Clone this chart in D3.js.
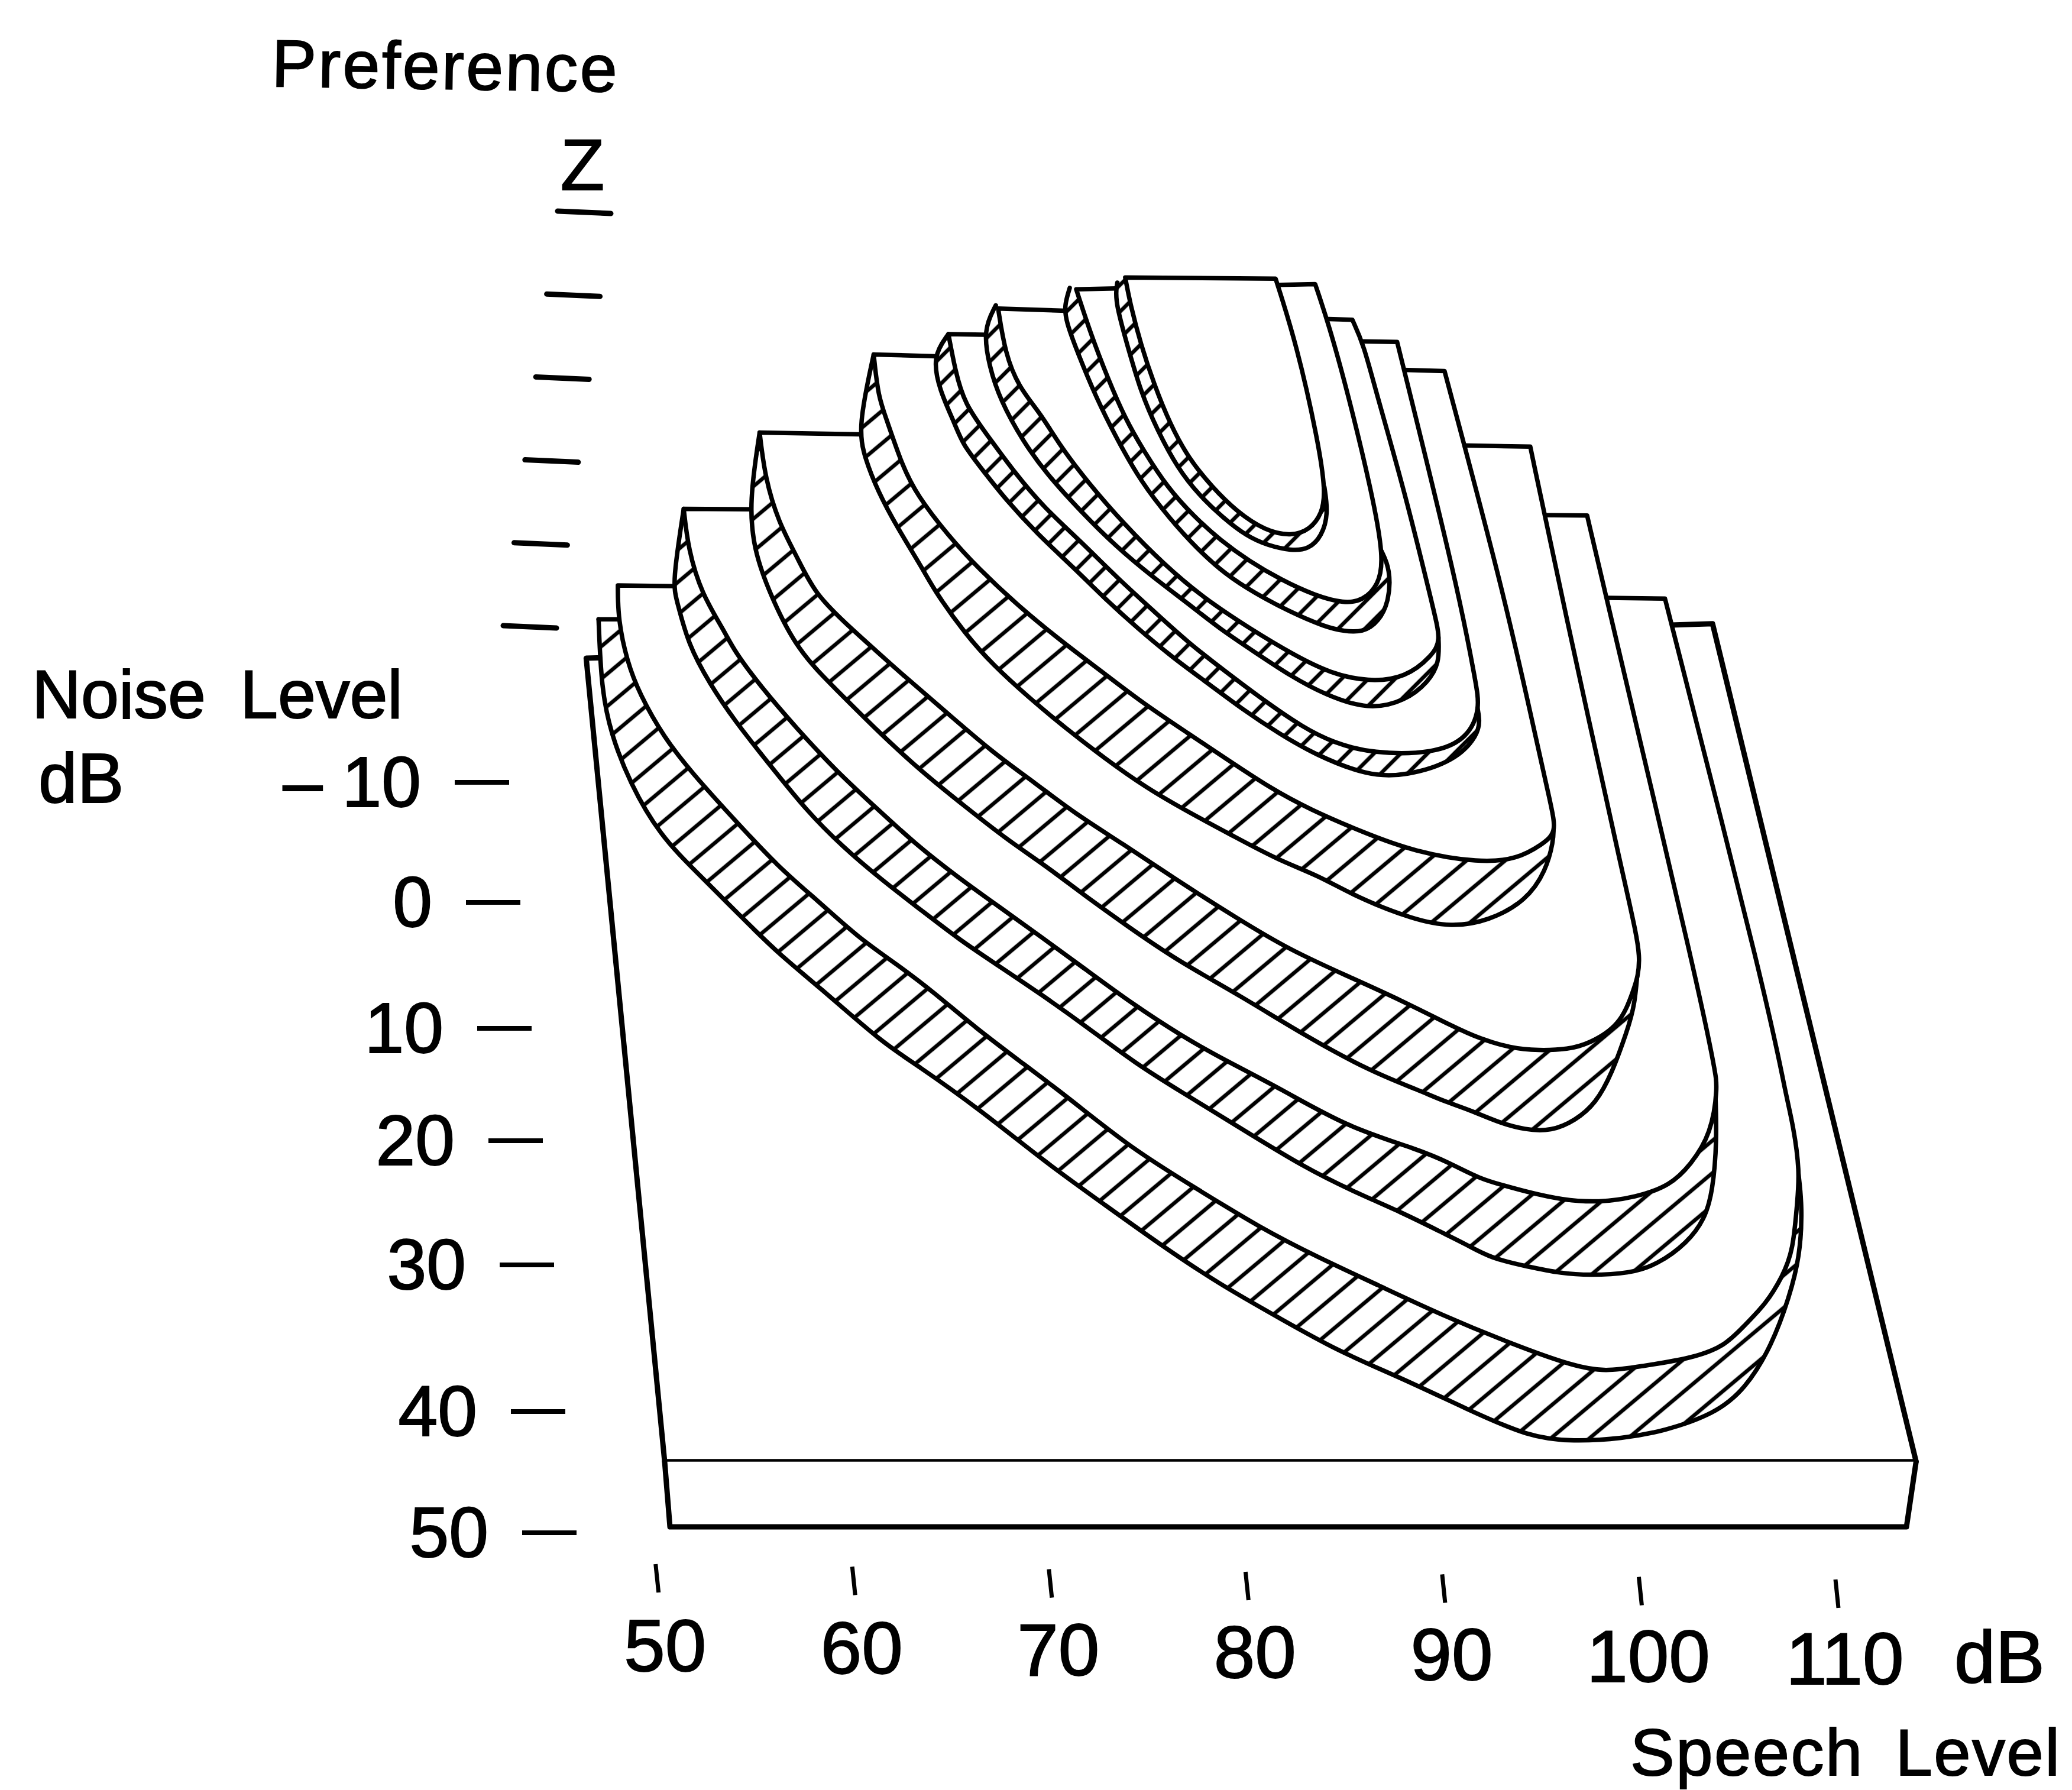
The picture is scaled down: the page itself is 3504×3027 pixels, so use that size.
<html>
  <head>
    <meta charset="utf-8">
    <script src="https://d3js.org/d3.v7.min.js"></script>
    <style>
      body { margin: 0; background: #fff; }
      text { font-family: "Liberation Sans", sans-serif; fill: #000; stroke: #000; stroke-width: 2; }
    </style>
  </head>
  <body>
    <svg id="chart" width="3504" height="3027"></svg>

    <script>
      // every point is [speech dB, noise dB] as read against the two axes
      var plateTop = [[46.41, -19.93], [50.4, 44.31], [114.04, 44.31], [103.69, -22.68]];
      var plateFront = [[50.4, 44.31], [50.67, 49.53], [113.55, 49.53], [114.04, 44.31]];

      var tier1Top = [[48.02,-25.74],[48.03,-23.04],[48.49,-19.65],[49.12,-17.08],[50.35,-13.61],[51.88,-10.59],[53.8,-7.27],[56.21,-3.17],[58.21,-0.52],[60.21,2.37],[62.2,4.54],[64.04,6.72],[66.19,9.61],[68.69,12.56],[70.93,15.21],[74.17,19.31],[77.41,22.45],[80.66,25.59],[83.65,28],[86.64,30.17],[89.89,32.58],[93.62,34.99],[96.61,36.68],[98.25,37.13],[100,36.7],[102.58,36.07],[104.3,35.12],[105.37,33.32],[106.38,31.74],[107.25,29.52],[107.79,27.4],[107.99,23.6],[108.13,21.17],[107.79,17.37],[107.39,14.83],[106.55,7.86],[101.27,-24.69]];
      var tier1Base = [[47.04,-23.04],[47.18,-17.53],[47.66,-13.91],[48.62,-9.99],[50.15,-5.77],[52.07,-2.75],[54.18,0.57],[56.1,3.58],[58.21,6.29],[61.47,10.82],[63.2,12.56],[66.44,16.17],[69.68,20.28],[72.67,23.65],[75.66,27.03],[78.66,30.17],[81.65,32.82],[84.64,35.48],[87.89,37.64],[91.12,40.06],[94.36,42.36],[96.61,42.71],[99.1,42.47],[101.2,41.88],[103.79,40.51],[105.37,38.5],[106.72,34.97],[107.59,31.17],[108.13,27.93],[108.26,24],[108.05,21.2]];

      var tier2Top = [[51.37,-31.87],[51.6,-28.61],[52.28,-25.08],[53.44,-22.09],[53.92,-20.55],[55.29,-17.65],[57.14,-14.27],[59.13,-10.9],[61.13,-8],[63.12,-5.11],[65.27,-2.46],[67.42,-0.04],[69.56,2.37],[71.87,5.03],[74.16,7.68],[76.74,10.33],[78.79,12.13],[81.75,14.51],[85.12,17.58],[88.77,19.37],[90.32,20.43],[91.86,21.7],[93.07,22.23],[94.28,22.76],[96.03,23.39],[97.91,23.6],[99.79,23.18],[101.54,22.23],[102.58,20.58],[103.62,18.11],[103.96,14.3],[103.79,12.98],[103.19,7.86],[98.21,-25.27],[97.31,-31.34]];
      var tier2Base = [[51.37,-31.87],[50.79,-25.89],[51.02,-24.54],[51.6,-21.01],[52.69,-17.89],[53.92,-15],[55.76,-11.37],[57.6,-7.76],[59.44,-4.86],[61.43,-2.21],[63.43,0.2],[65.42,2.62],[67.26,4.54],[69.56,6.96],[71.71,9.37],[74.42,12.56],[76.66,14.73],[79.65,17.62],[82.9,20.76],[85.39,22.69],[87.88,24.38],[89.98,26.03],[91.19,26.96],[92.4,28.04],[94.28,28.72],[96.03,29.27],[97.41,29.41],[99.46,29.27],[100.87,28.57],[102.41,26.82],[103.29,24.92],[103.69,22.76],[103.92,18.69],[103.82,14.3]];

      var tier3Top = [[55.23,-37.97],[55.51,-34.3],[56.2,-30.77],[57.12,-28.07],[58.04,-25.08],[59.65,-22.64],[61.13,-20.55],[62.5,-18.61],[64.65,-15.71],[67.11,-12.35],[69.26,-9.93],[71.25,-7.52],[73.72,-5.07],[76.27,-2.35],[79.63,0.99],[82.17,3.38],[85.12,5.49],[87.87,7.43],[90.52,9.55],[91.86,10.5],[93.41,11.24],[94.82,11.45],[96.37,11.34],[97.37,10.92],[98.99,9.44],[99.66,6.7],[100.15,4.26],[99.39,-0.7],[95.96,-25.27],[94.42,-36.84]];
      var tier3Base = [[55.23,-37.97],[54.7,-32.4],[54.93,-28.61],[55.74,-25.08],[57.14,-20.55],[59.13,-17.41],[61.27,-14.04],[63.43,-10.9],[65.73,-8],[67.87,-5.35],[69.7,-3.42],[71.71,-1.01],[73.85,1.41],[76.48,4.26],[79.63,7.01],[82.99,10.29],[86.39,13.18],[88.77,14.62],[89.98,15.47],[91.36,16.2],[92.74,17.16],[94.15,17.79],[95.49,17.89],[96.7,17.05],[97.75,15.68],[98.58,13.25],[99.32,9.97],[99.75,7.86],[99.93,3.9]];

      var tier4Top = [[61.03,-44.21],[61.26,-40.82],[61.7,-38.97],[62.47,-35.36],[63.24,-32.95],[64.78,-29.81],[66.31,-27.16],[68.61,-23.78],[70.91,-20.88],[72.75,-18.72],[74.75,-16.3],[77.05,-13.89],[78.89,-11.95],[81.19,-9.55],[83.18,-7.85],[85.95,-5.98],[88.5,-4.46],[91.86,-3.55],[93.77,-3.87],[95.02,-5.03],[95.76,-5.98],[95.5,-8],[94.5,-15],[93.05,-25.27],[90.06,-42.88]];
      var tier4Base = [[61.03,-44.21],[60.23,-38.38],[60.57,-35.94],[61.26,-33.22],[62.18,-30.51],[63.56,-26.98],[64.16,-25.23],[65.7,-21.84],[67.07,-19.43],[68.92,-16.78],[70.76,-14.37],[72.75,-11.95],[74.9,-9.55],[77.05,-7.61],[79.34,-5.69],[81.65,-3.75],[83.65,-2.55],[85.55,-0.84],[88.5,0.99],[90.39,1.57],[92.29,1.1],[94.22,-0.54],[95.22,-2.92],[95.6,-5.35],[95.6,-6.2]];

      var tier5Top = [[64.83,-45.84],[65.17,-43],[65.63,-40.28],[66.92,-37.52],[68.15,-34.87],[69.68,-31.98],[71.52,-29.33],[73.36,-26.43],[75.21,-23.78],[77.05,-21.13],[79.04,-18.72],[80.88,-16.54],[82.88,-14.37],[84.41,-13.17],[86.39,-12.3],[89.55,-12.3],[91.24,-13.51],[91.88,-15.92],[91.64,-18],[90.79,-25.27],[87.65,-45.21]];
      var tier5Base = [[64.83,-45.84],[64.02,-44.07],[64.37,-41.36],[65.17,-38.64],[65.54,-37.05],[66.62,-34.87],[67.69,-32.71],[69.38,-29.81],[71.21,-27.16],[72.75,-24.74],[74.44,-22.33],[76.28,-19.92],[77.97,-17.99],[79.81,-15.81],[81.65,-13.89],[83.49,-12.2],[86.18,-10.5],[88.07,-10.5],[90.6,-11.69],[91.77,-13.8],[91.85,-15],[91.73,-16]];

      var tier6Top = [[67.36,-47.88],[67.71,-44.35],[68.39,-41.63],[69.53,-39.46],[70.45,-37.05],[71.83,-34.15],[73.83,-30.53],[75.82,-27.39],[77.81,-24.74],[80.12,-22.33],[82.42,-20.16],[84.26,-18.72],[86.18,-18.03],[88.08,-18.35],[89.44,-20.14],[89.87,-21.35],[89.55,-23.5],[88.05,-33.17],[86.58,-41.19],[85.95,-44.99],[85.37,-46.99]];
      var tier6Base = [[67.24,-48.14],[66.6,-46.2],[66.9,-43.26],[67.47,-40.55],[68.61,-37.29],[69.84,-34.63],[71.52,-31.73],[73.36,-28.84],[75.21,-26.43],[77.05,-24.26],[78.58,-22.33],[80.42,-20.4],[82.26,-18.47],[83.95,-17.03],[86.18,-15.77],[88.08,-16.52],[89.24,-18.03],[89.8,-19.54],[89.75,-21.6]];

      var tier7Top = [[71.33,-49.42],[72.07,-45.84],[72.95,-42.25],[73.82,-39.08],[74.75,-36.54],[75.96,-33.59],[77.31,-31.27],[78.65,-29.37],[80.13,-27.68],[81.74,-26.2],[83.48,-24.93],[84.96,-24.31],[85.9,-24.52],[86.71,-25.79],[86.98,-27.89],[86.37,-33.17],[85.1,-41.4],[84.16,-46.67],[83.48,-49.84]];
      var tier7Base = [[71,-49.53],[70.73,-48.15],[70.8,-46.89],[71.4,-44.36],[72.34,-40.77],[73.35,-37.6],[74.62,-34.02],[76.1,-31.06],[77.44,-28.73],[78.92,-26.62],[80.4,-25.14],[82.14,-23.67],[84.02,-22.4],[84.96,-22.09],[85.9,-21.98],[86.71,-22.83],[87.25,-24.52],[87.3,-27.04],[86.85,-28.5]];

      var tier8Top = [[73.82,-50.37],[74.09,-48.15],[74.62,-44.99],[75.29,-41.82],[76.1,-38.65],[77.04,-35.91],[78.25,-33.59],[79.46,-31.69],[80.94,-30.11],[82.27,-29.68],[83.22,-30.21],[83.82,-31.48],[84.02,-33.17],[83.62,-37.39],[82.54,-44.99],[81.47,-50.27]];
      var tier8Base = [[73.42,-49.95],[73.28,-48.58],[73.96,-44.78],[74.62,-41.19],[75.43,-38.23],[76.5,-35.07],[77.58,-32.96],[78.79,-31.16],[80,-29.68],[81.07,-28.94],[82.27,-28.52],[83.15,-28.63],[83.82,-29.68],[84.15,-31.48],[83.95,-33.6]];

      var speechTicks = [50, 60, 70, 80, 90, 100, 110];
      var noiseTicks = [-10, 0, 10, 20, 30, 40, 50];
      var noiseLabels = ["\u2013 10", "0", "10", "20", "30", "40", "50"];
      var zTicks = [0, 1, 2, 3, 4, 5];

      var tiers = [
        { top: tier1Top, base: tier1Base, hatch: "wide", ledge: true },
        { top: tier2Top, base: tier2Base, hatch: "wide" },
        { top: tier3Top, base: tier3Base, hatch: "wide" },
        { top: tier4Top, base: tier4Base, hatch: "wide" },
        { top: tier5Top, base: tier5Base, hatch: "tight" },
        { top: tier6Top, base: tier6Base, hatch: "tight" },
        { top: tier7Top, base: tier7Base, hatch: "tight" },
        { top: tier8Top, base: tier8Base, hatch: "tight" }
      ];

      var speechX = d3.scaleLinear().domain([50, 110]).range([1110.7, 3106]);
      var noiseY = d3.scaleLinear().domain([-10, 50]).range([1323, 2592]);

      // the drawn axes are not evenly spaced and they lean, so they get their own scales
      var noiseTickY = d3.scaleLinear().domain(noiseTicks).range([1323, 1526, 1739, 1929, 2139, 2387, 2592]);
      var noiseTickX = d3.scaleLinear().domain([-10, 50]).range([769, 883]);
      var speechTickY = d3.scaleLinear().domain([50, 110]).range([2645, 2671]);
      var speechLabelY = d3.scaleLinear().domain([50, 110]).range([2826, 2848]);
      var zY = d3.scaleLinear().domain([0, 5]).range([1060, 359]);
      var zX = d3.scaleLinear().domain([0, 5]).range([851, 943]);

      var svg = d3.select("#chart");

      var defs = svg.append("defs");
      [["wide", 42, -40, 6.5], ["tight", 32, -45, 6.5]].forEach(function(h) {
        var p = defs.append("pattern")
          .attr("id", "hatch-" + h[0])
          .attr("patternUnits", "userSpaceOnUse")
          .attr("width", h[1]).attr("height", h[1])
          .attr("patternTransform", "rotate(" + h[2] + ")");
        p.append("rect").attr("width", h[1]).attr("height", h[1]).attr("fill", "#fff");
        p.append("line")
          .attr("x1", 0).attr("x2", h[1])
          .attr("y1", h[1] / 2).attr("y2", h[1] / 2)
          .attr("stroke", "#000").attr("stroke-width", h[3]);
      });

      // basis spline, my readings are a bit noisy and the real edges are smooth
      var curve = d3.line()
        .x(function(d) { return speechX(d[0]); })
        .y(function(d) { return noiseY(d[1]); })
        .curve(d3.curveBasis);

      var straight = d3.line()
        .x(function(d) { return speechX(d[0]); })
        .y(function(d) { return noiseY(d[1]); });

      var ink = { fill: "none", stroke: "#000", "stroke-width": 7.5, "stroke-linejoin": "round", "stroke-linecap": "round" };
      function inked(sel) {
        Object.keys(ink).forEach(function(k) { sel.attr(k, ink[k]); });
        return sel;
      }

      // plate first, then each tier painted over the one below it
      inked(svg.append("path").attr("d", straight(plateTop) + "Z")).attr("fill", "#fff").attr("stroke-width", 9);
      inked(svg.append("path").attr("d", straight(plateFront))).attr("fill", "#fff").attr("stroke-width", 9);

      tiers.forEach(function(t) {
        var end = t.base[t.base.length - 1];
        var join = d3.leastIndex(t.top, function(p) {
          return Math.hypot(p[0] - end[0], p[1] - end[1]);
        });
        // the outer tier has a short flat ledge, so its riser starts a point further on
        var upper = t.top.slice(t.ledge ? 1 : 0, join + 1);
        var lowerBack = t.base.slice().reverse();
        var ring = curve(upper) + "L" + curve(lowerBack).slice(1) + "Z";

        svg.append("path").attr("d", ring).attr("fill", "url(#hatch-" + t.hatch + ")");
        inked(svg.append("path").attr("d", curve(t.base)));
        if (t.ledge) {
          inked(svg.append("path").attr("d", straight([t.base[0], t.top[1]])));
        }
        inked(svg.append("path").attr("d", curve(t.top) + "Z")).attr("fill", "#fff");
      });

      // preference ticks
      svg.selectAll(".ztick").data(zTicks).enter().append("line")
        .attr("class", "ztick")
        .attr("x1", function(d) { return zX(d); })
        .attr("x2", function(d) { return zX(d) + 90; })
        .attr("y1", function(d) { return zY(d) - 2; })
        .attr("y2", function(d) { return zY(d) + 2; })
        .attr("stroke", "#000").attr("stroke-width", 9).attr("stroke-linecap", "round");

      // noise axis
      svg.selectAll(".ntick").data(noiseTicks).enter().append("line")
        .attr("class", "ntick")
        .attr("x1", function(d) { return noiseTickX(d); })
        .attr("x2", function(d) { return noiseTickX(d) + 92; })
        .attr("y1", function(d) { return noiseTickY(d); })
        .attr("y2", function(d) { return noiseTickY(d); })
        .attr("stroke", "#000").attr("stroke-width", 8);

      svg.selectAll(".nlabel").data(noiseTicks).enter().append("text")
        .attr("class", "nlabel")
        .attr("x", function(d) { return noiseTickX(d) - 57; })
        .attr("y", function(d) { return noiseTickY(d) + 41; })
        .attr("text-anchor", "end")
        .attr("font-size", 120)
        .text(function(d, i) { return noiseLabels[i]; });

      // speech axis
      svg.selectAll(".stick").data(speechTicks).enter().append("line")
        .attr("class", "stick")
        .attr("x1", function(d) { return speechX(d) - 2; })
        .attr("x2", function(d) { return speechX(d) + 3; })
        .attr("y1", function(d) { return speechTickY(d); })
        .attr("y2", function(d) { return speechTickY(d) + 48; })
        .attr("stroke", "#000").attr("stroke-width", 7);

      svg.selectAll(".slabel").data(speechTicks).enter().append("text")
        .attr("class", "slabel")
        .attr("x", function(d) { return speechX(d) + 14; })
        .attr("y", function(d) { return speechLabelY(d); })
        .attr("text-anchor", "middle")
        .attr("font-size", 125)
        .text(function(d) { return d; });

      svg.append("text").attr("x", 3305).attr("y", 2845).attr("font-size", 125).text("dB");
      svg.append("text").attr("x", 2757).attr("y", 3002).attr("font-size", 112)
        .attr("letter-spacing", 2.5).attr("word-spacing", 20).text("Speech Level");

      svg.append("text").attr("x", 54).attr("y", 1214).attr("font-size", 115)
        .attr("word-spacing", 26).text("Noise Level");
      svg.append("text").attr("x", 65).attr("y", 1357).attr("font-size", 118).text("dB");

      svg.append("text").attr("x", 459).attr("y", 146).attr("font-size", 113)
        .attr("letter-spacing", 3.5)
        .attr("transform", "rotate(0.9 459 146)")
        .text("Preference");
      svg.append("text").attr("x", 985).attr("y", 321).attr("font-size", 122)
        .attr("text-anchor", "middle").text("Z");
    </script>
  </body>
</html>
